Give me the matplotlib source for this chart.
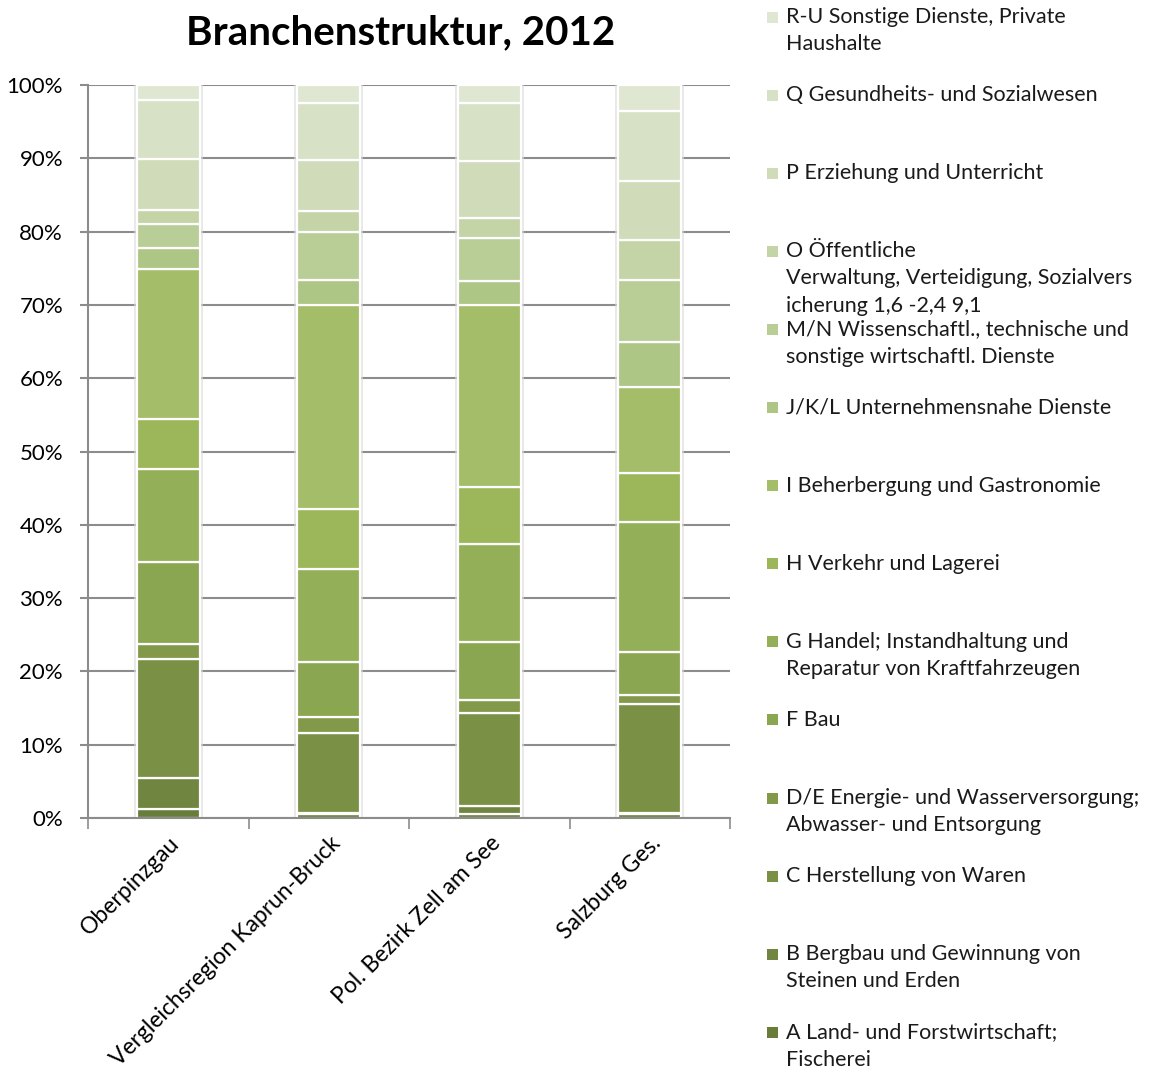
import numpy as np
import matplotlib
matplotlib.use("Agg")
import matplotlib.pyplot as plt
from matplotlib.patches import Rectangle

plt.rcParams['font.family'] = ['Lato', 'DejaVu Sans']

# Regionen (x-Achse)
regionen = ["Oberpinzgau", "Vergleichsregion Kaprun-Bruck",
            "Pol. Bezirk Zell am See", "Salzburg Ges."]

# Branchen, von unten nach oben gestapelt
branchen = [
    "A Land- und Forstwirtschaft;\nFischerei",
    "B Bergbau und Gewinnung von\nSteinen und Erden",
    "C Herstellung von Waren",
    "D/E Energie- und Wasserversorgung;\nAbwasser- und Entsorgung",
    "F Bau",
    "G Handel; Instandhaltung und\nReparatur von Kraftfahrzeugen",
    "H Verkehr und Lagerei",
    "I Beherbergung und Gastronomie",
    "J/K/L Unternehmensnahe Dienste",
    "M/N Wissenschaftl., technische und\nsonstige wirtschaftl. Dienste",
    "O Öffentliche\nVerwaltung, Verteidigung, Sozialvers\nicherung 1,6 -2,4 9,1",
    "P Erziehung und Unterricht",
    "Q Gesundheits- und Sozialwesen",
    "R-U Sonstige Dienste, Private\nHaushalte",
]

# Anteile in % (A ... R-U)
oberpinzgau   = [1.2, 4.2, 16.3, 2.1, 11.1, 12.7, 6.9, 20.4, 2.9, 3.2, 1.9, 7.0, 8.1, 2.0]
kaprun_bruck  = [0.6, 0.1, 10.9, 2.2, 7.5, 12.7, 8.2, 27.8, 3.4, 6.5, 2.9, 6.9, 7.8, 2.5]
zell_am_see   = [0.6, 1.0, 12.7, 1.8, 7.9, 13.4, 7.8, 24.8, 3.2, 5.9, 2.8, 7.7, 7.9, 2.5]
salzburg_ges  = [0.6, 0.1, 14.8, 1.3, 5.9, 17.7, 6.7, 11.7, 6.1, 8.5, 5.5, 8.0, 9.6, 3.5]

farben = ["#687d3a", "#6f8540", "#7a9145", "#83994a", "#8ba651", "#93af57",
          "#9bb75a", "#a3bd68", "#adc585", "#b9cd97", "#c4d4a7", "#cfdbb9",
          "#d7e1c5", "#dfe7d3"]

werte = np.array([oberpinzgau, kaprun_bruck, zell_am_see, salzburg_ges])
werte = werte / werte.sum(axis=1, keepdims=True) * 100

fig = plt.figure(figsize=(11.55, 10.71), dpi=100)
ax = fig.add_axes([88 / 1155, 1 - 818 / 1071, 642 / 1155, 733 / 1071])

x = np.arange(len(regionen))
breite = 0.39

# leichter Schatten hinter den Säulen
for xi in x:
    ax.add_patch(Rectangle((xi - breite / 2 - 0.02, 0), breite + 0.04, 100.3,
                           facecolor="#d9d9d9", edgecolor="none", alpha=0.6, zorder=1))

unten = np.zeros(len(regionen))
for i in range(len(branchen)):
    ax.bar(x, werte[:, i], breite, bottom=unten, color=farben[i],
           edgecolor="white", linewidth=1.6, zorder=2)
    unten += werte[:, i]

ax.set_xlim(-0.5, len(regionen) - 0.5)
ax.set_ylim(0, 100)
ax.set_yticks(np.arange(0, 101, 10))
ax.set_yticklabels([f"{v}%" for v in range(0, 101, 10)], fontsize=16)
ax.yaxis.grid(True, color="#8c8c8c", linewidth=1.5, zorder=0)
ax.set_axisbelow(True)

ax.set_xticks(np.arange(-0.5, len(regionen), 1.0))
ax.set_xticklabels([])
ax.tick_params(axis="x", length=8, width=1.2, color="#8c8c8c", direction="out")
ax.tick_params(axis="y", length=6, width=1.5, color="#8c8c8c", direction="out", pad=12)

for s in ["top", "right"]:
    ax.spines[s].set_visible(False)
ax.spines["left"].set_color("#8c8c8c")
ax.spines["left"].set_linewidth(1.5)
ax.spines["bottom"].set_color("#8c8c8c")
ax.spines["bottom"].set_linewidth(1.5)

# schräge Kategorienbeschriftung
for xi, name in zip(x, regionen):
    ax.annotate(name, xy=(xi, 0), xycoords="data", xytext=(8, -22),
                textcoords="offset pixels", rotation=45, ha="right", va="center",
                rotation_mode="anchor", fontsize=16.5)

fig.text(401 / 1155, 1 - 33 / 1071, "Branchenstruktur, 2012", ha="center", va="center",
         fontsize=29, fontweight="bold")

# Legende rechts, oberster Eintrag = R-U
for k, i in enumerate(range(len(branchen) - 1, -1, -1)):
    y = 17 + 78.1 * k
    fig.patches.append(Rectangle((767 / 1155, 1 - (y + 5.5) / 1071), 11 / 1155, 11 / 1071,
                                 facecolor=farben[i], edgecolor="none",
                                 transform=fig.transFigure, figure=fig))
    fig.text(786 / 1155, 1 - (y - 10) / 1071, branchen[i], ha="left", va="top",
             fontsize=15.5, linespacing=1.45, color="#1a1a1a")

fig.savefig("out.png", dpi=100)
